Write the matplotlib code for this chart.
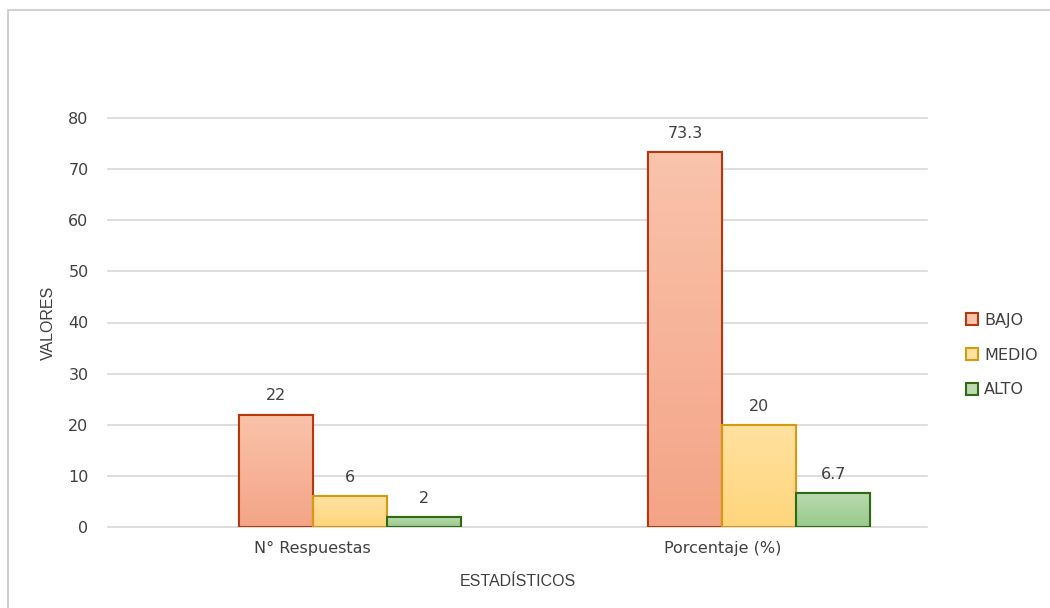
import numpy as np
import matplotlib
matplotlib.use("Agg")
import matplotlib.pyplot as plt
from matplotlib.patches import Rectangle
from matplotlib.colors import LinearSegmentedColormap

categories = ["N° Respuestas", "Porcentaje (%)"]
series_names = ["BAJO", "MEDIO", "ALTO"]
bajo = [22, 73.3]
medio = [6, 20]
alto = [2, 6.7]
value_labels = [["22", "73.3"], ["6", "20"], ["2", "6.7"]]
yticks = [0, 10, 20, 30, 40, 50, 60, 70, 80]

top_cols = ["#F9C3AC", "#FFE2A0", "#BCDBB0"]
bot_cols = ["#F4A486", "#FFD57C", "#98C98B"]
edge_cols = ["#B5380E", "#D49A12", "#2F6B12"]

plt.rcParams['font.family'] = ['DejaVu Sans']
fig = plt.figure(figsize=(10.5, 6.08), dpi=100)
ax = fig.add_axes([108/1050, 81/608, 819/1050, 409/608])

# figure border (left/top visible)
fig.patches.append(Rectangle((8/1050, -0.1), 1.2, (608-10)/608 + 0.1,
                             transform=fig.transFigure, fill=False,
                             edgecolor="#C9C9C9", linewidth=1.2))

x = np.arange(len(categories))
w = 0.181
offsets = [-0.5*w, 0.5*w, 1.5*w]
allvals = [bajo, medio, alto]

ax.set_xlim(-0.5, 1.5)
ax.set_ylim(0, 80)
ax.set_yticks(yticks)
ax.yaxis.grid(True, color="#D4D4D4", linewidth=1.1)
for gl in ax.get_ygridlines():
    gl.set_clip_on(False)
ax.set_axisbelow(True)
for s in ax.spines.values():
    s.set_visible(False)
ax.tick_params(axis='both', length=0, labelsize=11.5, colors="#404040")
ax.tick_params(axis='y', pad=14)
ax.tick_params(axis='x', pad=10)
ax.set_xticks(x)
ax.set_xticklabels(categories)

handles = []
for si, (vals, off) in enumerate(zip(allvals, offsets)):
    cmap = LinearSegmentedColormap.from_list("g%d" % si, [bot_cols[si], top_cols[si]])
    bars = ax.bar(x + off, vals, width=w, color=bot_cols[si],
                  edgecolor=edge_cols[si], linewidth=1.5, zorder=3,
                  label=series_names[si])
    for b, lab in zip(bars, value_labels[si]):
        bx, by = b.get_x(), b.get_y()
        bw, bh = b.get_width(), b.get_height()
        grad = np.linspace(0, 1, 256).reshape(-1, 1)
        im = ax.imshow(grad, cmap=cmap, origin="lower", aspect="auto",
                       extent=[bx, bx + bw, by, by + bh], zorder=3.5)
        im.set_clip_path(b)
        ax.add_patch(Rectangle((bx, by), bw, bh, fill=False,
                               edgecolor=edge_cols[si], linewidth=1.5, zorder=4))
        ax.annotate(lab, (bx + bw/2, by + bh), xytext=(0, 8),
                    textcoords="offset points", ha="center", va="bottom",
                    fontsize=11.5, color="#404040")
    handles.append(Rectangle((0, 0), 1, 1, facecolor=top_cols[si],
                             edgecolor=edge_cols[si], linewidth=1.5))

ax.set_xlim(-0.5, 1.5)
ax.set_ylim(0, 80)

leg = fig.legend(handles, series_names, loc="center left",
                 bbox_to_anchor=(952/1050, 1 - 355/608), frameon=False,
                 fontsize=11.5, handlelength=0.75, handleheight=0.75,
                 handletextpad=0.35, labelspacing=1.25, labelcolor="#404040")

ax.set_xlabel("ESTADÍSTICOS", fontsize=11.5, color="#404040",
              family=["Liberation Sans"], labelpad=13)
ax.set_ylabel("VALORES", fontsize=11.5, color="#404040",
              family=["Liberation Sans"], labelpad=9)

fig.savefig("out.png", dpi=100)
